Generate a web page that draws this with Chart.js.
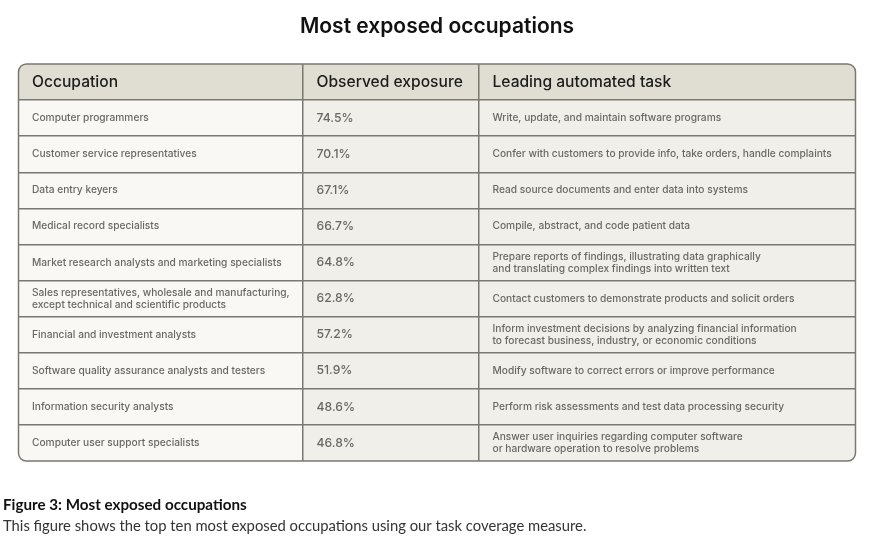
<!DOCTYPE html>
<html>
<head>
<meta charset="utf-8">
<title>Most exposed occupations</title>
<script src="https://cdn.jsdelivr.net/npm/chart.js@4.4.1/dist/chart.umd.min.js"></script>
<style>
  html, body { margin: 0; padding: 0; background: #fff; }
  #wrap { width: 896px; height: 540px; position: relative; }
</style>
</head>
<body>
<div id="wrap"><canvas id="chart"></canvas></div>
<script>
  "use strict";

  // ---- data ----
  const headers = ["Occupation", "Observed exposure", "Leading automated task"];

  const occupations = [
    ["Computer programmers"],
    ["Customer service representatives"],
    ["Data entry keyers"],
    ["Medical record specialists"],
    ["Market research analysts and marketing specialists"],
    ["Sales representatives, wholesale and manufacturing,", "except technical and scientific products"],
    ["Financial and investment analysts"],
    ["Software quality assurance analysts and testers"],
    ["Information security analysts"],
    ["Computer user support specialists"],
  ];

  const exposure = [74.5, 70.1, 67.1, 66.7, 64.8, 62.8, 57.2, 51.9, 48.6, 46.8];

  const tasks = [
    ["Write, update, and maintain software programs"],
    ["Confer with customers to provide info, take orders, handle complaints"],
    ["Read source documents and enter data into systems"],
    ["Compile, abstract, and code patient data"],
    ["Prepare reports of findings, illustrating data graphically", "and translating complex findings into written text"],
    ["Contact customers to demonstrate products and solicit orders"],
    ["Inform investment decisions by analyzing financial information", "to forecast business, industry, or economic conditions"],
    ["Modify software to correct errors or improve performance"],
    ["Perform risk assessments and test data processing security"],
    ["Answer user inquiries regarding computer software", "or hardware operation to resolve problems"],
  ];

  const captionTitle = "Figure 3: Most exposed occupations";
  const captionText = "This figure shows the top ten most exposed occupations using our task coverage measure.";

  // ---- layout / theme ----
  const COL_EDGES = [0, 284.5, 460.5, 837]; // table width units on the x scale
  const RADIUS = 8;
  const C = {
    head: "#e0ddd3",
    cellLight: "#f9f8f4",
    cellDark: "#f1efe9",
    line: "#7b7771",
    headText: "#1c1c1c",
    bodyText: "#6a6864",
    title: "#111111",
  };
  const FONT = "Inter, 'Noto Sans', sans-serif";

  const rowLabels = ["header"].concat(occupations.map((o) => o.join(" ")));
  const nRows = rowLabels.length;

  function columnDataset(col) {
    return {
      label: headers[col],
      data: rowLabels.map(() => [COL_EDGES[col], COL_EDGES[col + 1]]),
      backgroundColor: (c) => (c.dataIndex === 0 ? C.head : col === 0 ? C.cellLight : C.cellDark),
      borderWidth: 0,
      borderSkipped: false,
      barPercentage: 1,
      categoryPercentage: 1,
      grouped: false,
    };
  }

  function cellLines(row, col) {
    if (row === 0) return [headers[col]];
    const i = row - 1;
    if (col === 0) return occupations[i];
    if (col === 1) return [exposure[i].toFixed(1) + "%"];
    return tasks[i];
  }

  function tablePath(ctx, a) {
    ctx.beginPath();
    ctx.roundRect(a.left, a.top, a.right - a.left, a.bottom - a.top, RADIUS);
  }

  // inner grid lines only; the outer edge is the rounded border
  const innerLine = (count) => (c) =>
    c.type !== "tick" || c.index === 0 || c.index >= count - 1 ? "transparent" : C.line;

  // rounded clip for the cells, outer border, cell text, caption
  const tablePlugin = {
    id: "tableText",
    beforeDatasetsDraw(chart) {
      chart.ctx.save();
      tablePath(chart.ctx, chart.chartArea);
      chart.ctx.clip();
    },
    afterDatasetsDraw(chart) {
      chart.ctx.restore();
    },
    afterDraw(chart) {
      const { ctx, chartArea: a, scales } = chart;
      const x = scales.x, y = scales.y;
      ctx.save();
      ctx.strokeStyle = C.line;
      ctx.lineWidth = 1.5;
      tablePath(ctx, a);
      ctx.stroke();

      ctx.textBaseline = "middle";
      ctx.textAlign = "left";
      for (let row = 0; row < nRows; row++) {
        const cy = y.getPixelForValue(row);
        for (let col = 0; col < 3; col++) {
          const lx = x.getPixelForValue(COL_EDGES[col]) + 13.5;
          const lines = cellLines(row, col);
          if (row === 0) {
            ctx.font = "500 15.6px " + FONT;
            ctx.fillStyle = C.headText;
          } else if (col === 1) {
            ctx.font = "500 12.2px " + FONT;
            ctx.fillStyle = C.bodyText;
          } else {
            ctx.font = "500 10.2px " + FONT;
            ctx.fillStyle = C.bodyText;
          }
          const lh = 12;
          const y0 = cy - ((lines.length - 1) * lh) / 2;
          lines.forEach((t, k) => ctx.fillText(t, lx, y0 + k * lh));
        }
      }

      ctx.fillStyle = "#111";
      ctx.font = "700 15.2px Lato, sans-serif";
      ctx.fillText(captionTitle, 3, 505);
      ctx.fillStyle = "#333";
      ctx.font = "400 14.8px Lato, sans-serif";
      ctx.fillText(captionText, 3, 526);
      ctx.restore();
    },
  };

  new Chart(document.getElementById("chart"), {
    type: "bar",
    data: {
      labels: rowLabels,
      datasets: [columnDataset(0), columnDataset(1), columnDataset(2)],
    },
    options: {
      indexAxis: "y",
      responsive: true,
      maintainAspectRatio: false,
      animation: false,
      layout: { padding: { left: 18.5, right: 40.5, top: 0, bottom: 79 } },
      plugins: {
        legend: { display: false },
        tooltip: { enabled: false },
        title: {
          display: true,
          text: "Most exposed occupations",
          color: C.title,
          font: { family: FONT, size: 21, weight: "600" },
          padding: { top: 14, bottom: 24.8 },
        },
      },
      scales: {
        x: {
          type: "linear",
          min: COL_EDGES[0],
          max: COL_EDGES[COL_EDGES.length - 1],
          afterBuildTicks: (s) => { s.ticks = COL_EDGES.map((v) => ({ value: v })); },
          ticks: { display: false },
          border: { display: false },
          grid: { z: 1, drawTicks: false, lineWidth: 1.5, color: innerLine(COL_EDGES.length) },
        },
        y: {
          type: "category",
          ticks: { display: false },
          border: { display: false },
          grid: { z: 1, offset: true, drawTicks: false, lineWidth: 1.5, color: innerLine(nRows + 1) },
        },
      },
    },
    plugins: [tablePlugin],
  });
</script>
</body>
</html>
